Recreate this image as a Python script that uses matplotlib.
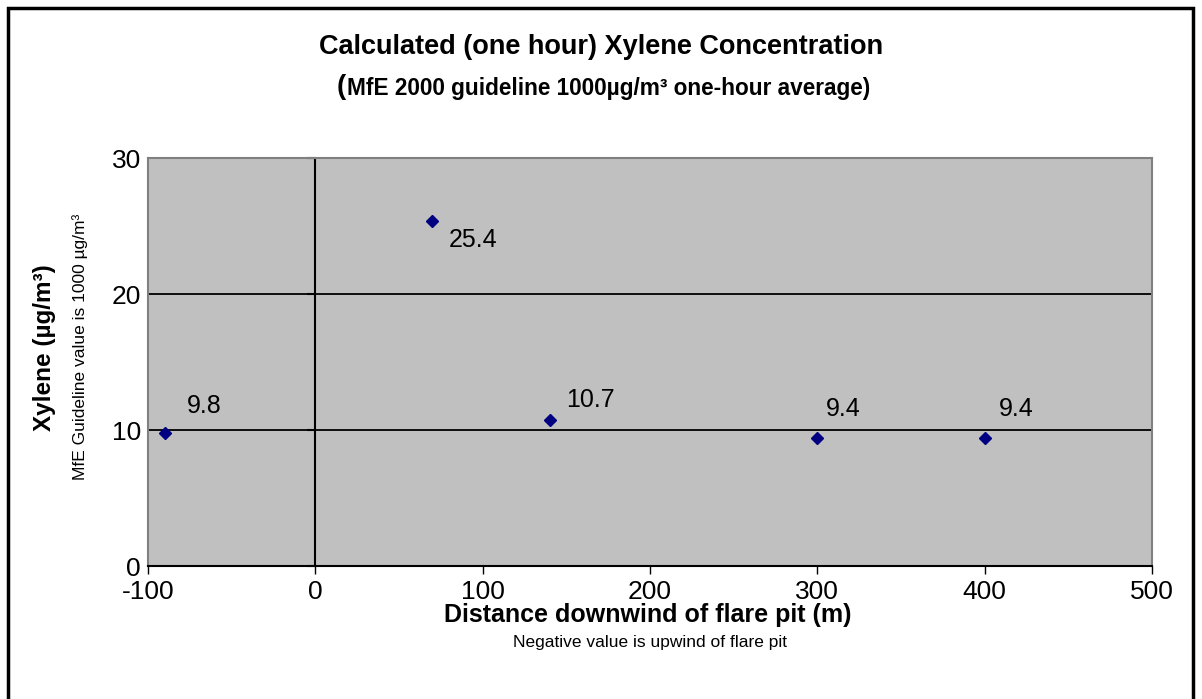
import numpy as np
import matplotlib.pyplot as plt
from matplotlib.patches import Rectangle

plt.rcParams['font.family'] = ['Liberation Sans', 'DejaVu Sans']
plt.rcParams['axes.unicode_minus'] = False

# data
distance = [-90, 70, 140, 300, 400]
xylene = [9.8, 25.4, 10.7, 9.4, 9.4]
label_offsets = [(16, 19), (11.5, -14), (12, 14.5), (6.5, 21), (10, 21)]  # points
x_ticks = [-100, 0, 100, 200, 300, 400, 500]
y_ticks = [0, 10, 20, 30]

W, H = 1202, 699
fig = plt.figure(figsize=(W / 100, H / 100), dpi=100)
ax = fig.add_axes([148 / W, 1 - 566 / H, (1152 - 148) / W, (566 - 158) / H])
ax.set_facecolor('#C0C0C0')

ax.set_xlim(-100, 500)
ax.set_ylim(0, 30)
ax.set_xticks(x_ticks)
ax.set_yticks(y_ticks)
ax.tick_params(axis='x', direction='out', length=6, width=1, labelsize=19, pad=4, colors='black')
ax.tick_params(axis='y', length=0, labelsize=19, pad=5)

for s in ['left', 'top', 'right']:
    ax.spines[s].set_color('#808080')
    ax.spines[s].set_linewidth(1.5)
ax.spines['bottom'].set_color('black')
ax.spines['bottom'].set_linewidth(1.5)

# gridlines and vertical axis at x = 0
for y in y_ticks[1:-1]:
    ax.axhline(y, color='black', lw=1.3, zorder=1)
ax.axvline(0, color='black', lw=1.5, zorder=1)
ax.plot([0] * len(y_ticks), y_ticks, ls='none', marker=0, ms=6, mew=1.5, color='black',
        clip_on=False, zorder=2)

ax.plot(distance, xylene, ls='none', marker='D', ms=6.5, color='#000080', zorder=3)
for x, y, off in zip(distance, xylene, label_offsets):
    ax.annotate(f'{y:.1f}', (x, y), xytext=off, textcoords='offset points',
                fontsize=18, ha='left', va='center')

# titles
fig.text(601 / W, 1 - 47 / H, 'Calculated (one hour) Xylene Concentration',
         ha='center', va='center', fontsize=19.5, fontweight='bold')
fig.text(346 / W, 1 - 87 / H, '(', ha='right', va='center', fontsize=20, fontweight='bold')
fig.text(347 / W, 1 - 88 / H, 'MfE 2000 guideline 1000µg/m³ one-hour average)',
         ha='left', va='center', fontsize=16.3, fontweight='bold')

# axis labels
fig.text(45 / W, 1 - 348 / H, 'Xylene (µg/m³)', rotation=90,
         ha='center', va='center', fontsize=17.5, fontweight='bold')
fig.text(80 / W, 1 - 347 / H, 'MfE Guideline value is 1000 µg/m³', rotation=90,
         ha='center', va='center', fontsize=12.5)
fig.text(648 / W, 1 - 615 / H, 'Distance downwind of flare pit (m)',
         ha='center', va='center', fontsize=18, fontweight='bold')
fig.text(650 / W, 1 - 642 / H, 'Negative value is upwind of flare pit',
         ha='center', va='center', fontsize=12.5)

fig.patches.append(Rectangle((8 / W, -0.01), (1193 - 8) / W, 1.01 - 8 / H,
                             transform=fig.transFigure, fill=False, ec='black', lw=2.5))

fig.savefig('out.png', dpi=100)
